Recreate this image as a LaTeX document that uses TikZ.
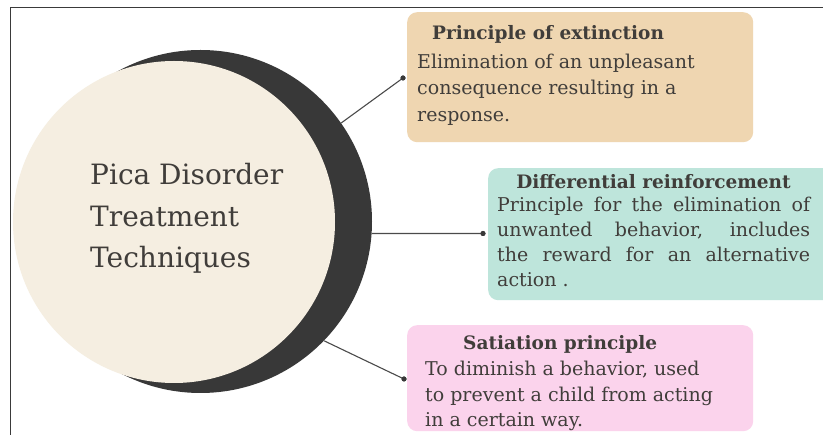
\documentclass[tikz,border=0pt]{standalone}
\usepackage{fontspec}
\setmainfont{DejaVu Serif}
\definecolor{framegray}{HTML}{3A3A3A}
\definecolor{ringdark}{HTML}{383838}
\definecolor{corebeige}{HTML}{F5EEE1}
\definecolor{cardtan}{HTML}{EFD6B1}
\definecolor{cardteal}{HTML}{BEE5DB}
\definecolor{cardpink}{HTML}{FBD3EC}
\definecolor{ink}{HTML}{403D3A}
\definecolor{linkgray}{HTML}{4A4A4A}
\begin{document}
\begin{tikzpicture}[x=1pt,y=-1pt,
  framerule/.style={draw=framegray,line width=1.2pt},
  card/.style={rectangle,rounded corners=10pt,inner sep=0pt,anchor=north west},
  bodytext/.style={anchor=base west,inner sep=0pt,text=ink,font=\fontsize{19}{24}\selectfont},
  headtext/.style={inner sep=0pt,text=ink,font=\fontsize{18.5}{22}\selectfont\bfseries},
  bigtext/.style={anchor=base west,inner sep=0pt,text=ink,font=\fontsize{28}{34}\selectfont},
  pin/.style={circle,fill=ringdark,inner sep=0pt,minimum size=5pt},
  link/.style={draw=linkgray,line width=1.1pt}]
\useasboundingbox (0,0) rectangle (823,435);
\clip (0,0) rectangle (823,435);
\fill[white] (0,0) rectangle (823,435);

% outer frame (top and left rules)
\draw[framerule] (823,7.5) -- (10.5,7.5) -- (10.5,435);

% central disc with its dark crescent
\node[circle,fill=ringdark,inner sep=0pt,minimum size=343pt] (ring) at (200.5,221.5) {};
\node[circle,fill=corebeige,inner sep=0pt,minimum size=322pt] (core) at (174,222) {};
\node[bigtext] (t1) at (90,185) {Pica Disorder};
\node[bigtext] (t2) at (90,227) {Treatment};
\node[bigtext] (t3) at (90,268) {Techniques};

% cards
\node[card,fill=cardtan,minimum width=346pt,minimum height=130pt] (ext) at (407,12) {};
\node[card,fill=cardteal,minimum width=360pt,minimum height=132pt] (dif) at (488,168) {};
\node[card,fill=cardpink,minimum width=346pt,minimum height=106pt] (sat) at (407,325) {};

% principle of extinction
\node[headtext,anchor=base west] (exth) at (432,39.5) {Principle of extinction};
\node[bodytext] (ext1) at (417,68.5) {Elimination of an unpleasant};
\node[bodytext] (ext2) at (417,95) {consequence resulting in a};
\node[bodytext] (ext3) at (417,121.7) {response.};

% differential reinforcement
\node[headtext,anchor=base] (difh) at (653.5,189) {Differential reinforcement};
\node[bodytext] (dif1) at (497,212) {\makebox[313pt][s]{Principle for the elimination of}};
\node[bodytext] (dif2) at (497,237) {\makebox[313pt][s]{unwanted behavior, includes}};
\node[bodytext] (dif3) at (497,262) {\makebox[313pt][s]{the reward for an alternative}};
\node[bodytext] (dif4) at (497,287) {action .};

% satiation principle
\node[headtext,anchor=base west] (sath) at (463,350) {Satiation principle};
\node[bodytext] (sat1) at (425,376) {To diminish a behavior, used};
\node[bodytext] (sat2) at (425,402) {to prevent a child from acting};
\node[bodytext] (sat3) at (425,427) {in a certain way.};

% connectors
\node[pin] (p1) at (403,78) {};
\node[pin] (p2) at (483,233.5) {};
\node[pin] (p3) at (404,379) {};
\draw[link] (ring.35) -- (p1.center);
\draw[link] (ring.-4) -- (p2.center);
\draw[link] (ring.-44) -- (p3.center);
\node[pin] at (p1) {};
\node[pin] at (p2) {};
\node[pin] at (p3) {};
\end{tikzpicture}
\end{document}
